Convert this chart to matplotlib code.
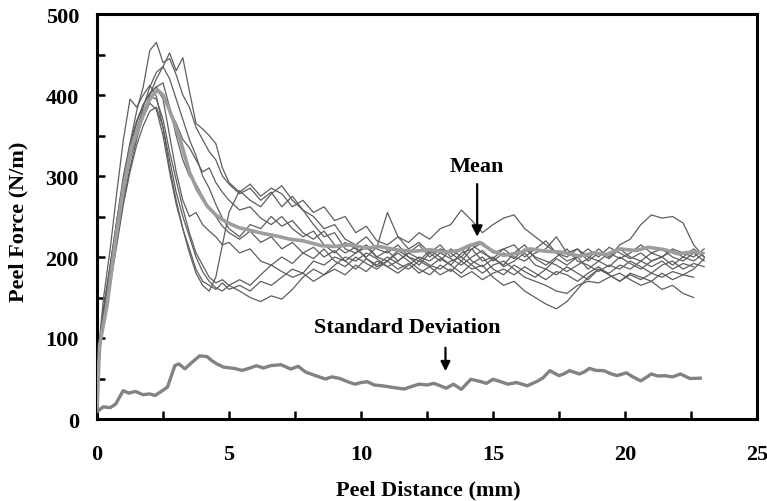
import numpy as np
import matplotlib
matplotlib.use("Agg")
import matplotlib.pyplot as plt
from matplotlib.ticker import MultipleLocator

plt.rcParams['font.family'] = ['Liberation Serif', 'DejaVu Serif']
plt.rcParams['font.weight'] = 'bold'

# sampling positions (mm) of the individual peel curves
grid_x = [0, 0.1, 0.25, 0.5, 0.75, 1.0, 1.25, 1.5, 1.75, 2.0, 2.25, 2.5, 2.75, 3.0,
          3.25, 3.5, 3.75, 4.0, 4.25, 4.5, 4.75, 5.0, 5.4, 5.8, 6.2, 6.6, 7.0, 7.4,
          7.8, 8.2, 8.6, 9.0, 9.4, 9.8, 10.2, 10.6, 11.0, 11.4, 11.8, 12.2, 12.6,
          13.0, 13.4, 13.8, 14.2, 14.6, 15.0, 15.4, 15.8, 16.2, 16.6, 17.0, 17.4,
          17.8, 18.2, 18.6, 19.0, 19.4, 19.8, 20.2, 20.6, 21.0, 21.4, 21.8, 22.2,
          22.6, 23.0]

curve_1 = [15, 95, 135, 190, 245, 295, 340, 380, 410, 455, 465, 440, 445, 425,
           400, 385, 360, 345, 330, 320, 300, 290, 278, 285, 270, 280, 262, 275,
           258, 250, 235, 240, 222, 215, 225, 210, 205, 215, 200, 195, 208,
           200, 190, 205, 210, 195, 200, 188, 195, 205, 190, 185, 198,
           190, 200, 185, 195, 188, 200, 192, 185, 195, 200, 190, 200,
           195, 205]
curve_2 = [10, 85, 120, 170, 220, 270, 310, 345, 375, 400, 420, 435, 452, 430,
           446, 405, 365, 358, 350, 340, 310, 292, 280, 290, 275, 285, 278, 262,
           270, 255, 262, 245, 250, 230, 238, 220, 215, 225, 218, 230, 222,
           235, 240, 258, 245, 230, 240, 248, 252, 235, 225, 215, 205,
           200, 210, 195, 205, 198, 210, 200, 195, 205, 200, 210, 205,
           200, 210]
curve_3 = [20, 100, 150, 210, 280, 345, 395, 385, 400, 412, 398, 360, 310, 270,
           235, 210, 185, 170, 165, 160, 168, 160, 165, 158, 170, 165, 175, 185,
           180, 195, 190, 200, 195, 185, 198, 190, 200, 192, 185, 195, 188,
           198, 190, 180, 192, 200, 185, 178, 190, 182, 175, 185, 178,
           188, 180, 172, 185, 178, 170, 180, 175, 170, 180, 172, 178,
           175]
curve_4 = [12, 90, 125, 175, 230, 285, 325, 355, 380, 398, 395, 370, 330, 295,
           260, 230, 205, 190, 175, 168, 172, 165, 158, 150, 145, 152, 148, 160,
           175, 185, 178, 190, 200, 195, 205, 198, 188, 195, 205, 198, 190,
           185, 195, 200, 190, 180, 190, 195, 185, 175, 170, 165, 158,
           155, 165, 170, 168, 175, 180, 172, 165, 170, 160, 165, 155,
           150]
curve_5 = [18, 92, 130, 180, 235, 290, 335, 365, 388, 402, 410, 395, 350, 305,
           270, 250, 255, 240, 232, 225, 215, 218, 205, 210, 195, 190, 182, 175,
           180, 170, 178, 185, 178, 190, 182, 195, 188, 180, 190, 200, 195,
           205, 198, 190, 200, 208, 195, 205, 198, 210, 200, 195, 190,
           182, 190, 198, 210, 200, 215, 222, 240, 252, 248, 250, 242,
           215, 200]
curve_6 = [10, 88, 122, 172, 225, 278, 320, 350, 372, 390, 382, 350, 305, 265,
           235, 205, 180, 165, 158, 175, 215, 255, 282, 270, 262, 278, 288, 270,
           258, 240, 225, 230, 210, 205, 215, 200, 208, 195, 205, 215, 200,
           210, 205, 195, 210, 218, 205, 210, 200, 195, 205, 210, 225,
           205, 210, 200, 195, 205, 198, 205, 215, 205, 210, 200, 195,
           205, 195]
curve_7 = [14, 93, 128, 178, 232, 285, 328, 358, 380, 395, 405, 398, 380, 365,
           345, 335, 320, 305, 310, 292, 280, 270, 258, 262, 248, 240, 250, 235,
           225, 232, 215, 205, 218, 210, 200, 212, 255, 225, 210, 218, 205,
           195, 210, 200, 215, 205, 198, 210, 215, 200, 210, 220, 205,
           195, 200, 210, 200, 212, 205, 198, 205, 195, 200, 208, 200,
           210, 200]
curve_8 = [8, 82, 115, 165, 215, 265, 305, 338, 362, 380, 385, 360, 320, 280,
           250, 225, 200, 182, 170, 162, 158, 165, 172, 165, 178, 190, 200, 192,
           205, 198, 210, 195, 188, 200, 192, 185, 195, 205, 195, 185, 178,
           190, 182, 195, 185, 190, 175, 165, 170, 158, 150, 142, 136,
           145, 160, 175, 185, 180, 190, 185, 195, 188, 195, 185, 192,
           188]
curve_9 = [16, 96, 138, 190, 245, 300, 340, 368, 388, 402, 410, 415, 385, 350,
           320, 300, 290, 275, 260, 250, 238, 230, 222, 232, 218, 225, 210, 218,
           205, 212, 200, 208, 195, 205, 212, 200, 195, 208, 200, 190, 205,
           215, 200, 210, 195, 188, 198, 190, 205, 215, 198, 190, 200,
           210, 195, 190, 182, 190, 185, 195, 188, 180, 190, 195, 185,
           192, 188]
curve_10 = [12, 90, 126, 176, 228, 280, 322, 355, 385, 410, 428, 435, 420, 395,
            370, 345, 325, 300, 285, 265, 248, 235, 225, 240, 235, 250, 238, 245,
            230, 222, 232, 215, 205, 212, 198, 188, 195, 185, 192, 180, 188,
            178, 185, 175, 182, 172, 180, 185, 178, 188, 180, 172, 182,
            178, 170, 180, 188, 178, 170, 178, 172, 180, 175, 182, 178,
            185, 198]

curves = [curve_1, curve_2, curve_3, curve_4, curve_5,
          curve_6, curve_7, curve_8, curve_9, curve_10]

mean_x = [0, 0.1, 0.38, 0.7, 1.0, 1.3, 1.63, 1.9, 2.1, 2.3, 2.5, 2.7, 2.9, 3.14,
          3.5, 3.8, 4.17, 4.5, 4.8, 5.1, 5.4, 5.8, 6.3, 6.8, 7.3, 7.8, 8.5, 9.0,
          9.6, 10.2, 10.7, 11.3, 12.0, 12.6, 13.2, 13.7, 14.1, 14.5, 15.0, 15.4,
          16.0, 16.4, 17.0, 17.6, 18.3, 18.8, 19.3, 19.8, 20.4, 20.9, 21.5, 22.0,
          22.5, 22.9]
mean_y = [12, 92, 140, 220, 285, 335, 365, 388, 400, 406, 400, 385, 368, 346,
          305, 283, 263, 252, 245, 240, 236, 233, 229, 226, 222, 220, 214, 213,
          215, 211, 213, 209, 207, 209, 206, 208, 214, 218, 207, 202,
          205, 210, 207, 206, 201, 205, 203, 210, 208, 212, 209, 204,
          206, 205]

sd_x = [0, 0.24, 0.5, 0.71, 0.99, 1.2, 1.46, 1.74, 2.0, 2.2, 2.48, 2.67, 2.95,
        3.1, 3.33, 3.6, 3.89, 4.17, 4.35, 4.54, 4.8, 5.19, 5.5, 5.8, 6.04, 6.3,
        6.6, 6.97, 7.34, 7.62, 7.9, 8.28, 8.65, 8.9, 9.2, 9.5, 9.77, 10.0,
        10.24, 10.5, 10.8, 11.2, 11.64, 11.9, 12.2, 12.5, 12.76, 13.0, 13.23,
        13.5, 13.8, 14.16, 14.5, 14.75, 15.0, 15.3, 15.56, 15.9, 16.3, 16.7,
        16.9, 17.15, 17.5, 17.7, 17.9, 18.27, 18.45, 18.65, 18.9, 19.2, 19.45,
        19.7, 20.05, 20.3, 20.6, 21.0, 21.25, 21.5, 21.8, 22.1, 22.46, 22.85]
sd_y = [9, 15, 14, 18.5, 35, 32, 34, 30, 31, 29, 35, 39.5, 66, 68, 62, 70, 78,
        77, 72, 68, 64, 62.5, 60, 63, 65.8, 63, 66, 67, 61.7, 65, 58, 53.5, 49.4,
        52, 50, 46, 43, 45, 46, 42, 41, 39, 37, 40, 43, 42, 44, 41, 38, 43,
        36.6, 49, 46.5, 44, 49, 46, 43, 45, 41, 47, 51, 59.7, 53.5, 56, 59.7,
        55.6, 58, 62.5, 60, 59.7, 56, 53.5, 57, 52, 47, 55.6, 53, 53.5, 52,
        55.6, 50, 50.4]

x_ticks = [0, 5, 10, 15, 20, 25]
y_ticks = [0, 100, 200, 300, 400, 500]

W, H = 767, 502
fig = plt.figure(figsize=(W / 100, H / 100), dpi=100)
ax = fig.add_axes([97 / W, 1 - 420 / H, 660 / W, 405 / H])

for c in curves:
    ax.plot(grid_x[:len(c)], c, color='#5e5e5e', lw=0.9, zorder=2)
ax.plot(mean_x, mean_y, color='#9d9d9d', lw=2.6, zorder=3)
ax.plot(sd_x, sd_y, color='#828282', lw=2.4, zorder=3)

ax.set_xlim(0, 25)
ax.set_ylim(0, 500)
ax.set_xticks(x_ticks)
ax.set_yticks(y_ticks)
ax.xaxis.set_minor_locator(MultipleLocator(2.5))
ax.yaxis.set_minor_locator(MultipleLocator(50))
ax.tick_params(which='both', direction='in', length=6, width=1.8,
               top=False, right=False)
ax.tick_params(axis='x', which='major', labelsize=16, pad=18)
ax.tick_params(axis='y', which='major', labelsize=16, pad=13)
for lab in ax.get_xticklabels() + ax.get_yticklabels():
    lab.set_fontweight('bold')
for s in ax.spines.values():
    s.set_linewidth(2.2)

fig.text(428 / W, 1 - 490 / H, 'Peel Distance (mm)', ha='center', va='center',
         fontsize=16, fontweight='bold')
fig.text(18 / W, 1 - 222 / H, 'Peel Force (N/m)', ha='center', va='center',
         rotation=90, fontsize=16, fontweight='bold')

ax.text(14.4, 312, 'Mean', ha='center', va='center', fontsize=16,
        fontweight='bold')
ax.annotate('', xy=(14.4, 225), xytext=(14.4, 290),
            arrowprops=dict(arrowstyle='-|>', color='black', lw=1.6,
                            mutation_scale=16, shrinkA=0, shrinkB=0))
ax.text(11.75, 113, 'Standard Deviation', ha='center', va='center',
        fontsize=16, fontweight='bold')
ax.annotate('', xy=(13.2, 59), xytext=(13.2, 88),
            arrowprops=dict(arrowstyle='-|>', color='black', lw=1.6,
                            mutation_scale=14, shrinkA=0, shrinkB=0))

fig.savefig('out.png', dpi=100)
